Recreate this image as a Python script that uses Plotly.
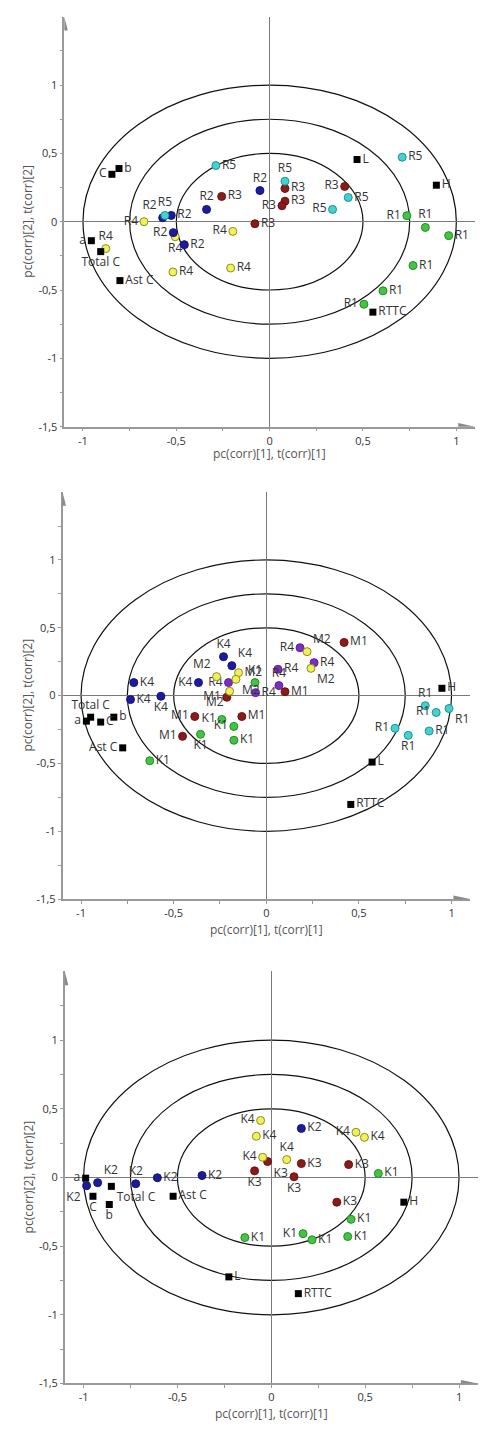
import plotly.graph_objects as go

# ---------------- panel 1 ----------------
p1_sq_names = ["b", "C", "L", "H", "a", "Total C", "Ast C", "RTTC"]
p1_sq_x = [-0.807, -0.845, 0.468, 0.893, -0.955, -0.905, -0.802, 0.553]
p1_sq_y = [0.389, 0.347, 0.455, 0.267, -0.139, -0.219, -0.431, -0.662]
p1_sq_pos = ["r", "l", "r", "r", "l", "b", "r", "r"]

p1_r5_x = [-0.288, 0.710, 0.082, 0.421, 0.337, -0.561]
p1_r5_y = [0.411, 0.472, 0.296, 0.177, 0.090, 0.046]
p1_r5_pos = ["r", "r", "t", "r", "l", "t"]

p1_r3_x = [-0.257, 0.082, 0.402, 0.082, 0.066, -0.079]
p1_r3_y = [0.185, 0.243, 0.258, 0.150, 0.117, -0.015]
p1_r3_pos = ["r", "r", "l", "r", "l", "r"]

p1_r2_x = [-0.052, -0.338, -0.573, -0.527, -0.516, -0.457]
p1_r2_y = [0.228, 0.090, 0.029, 0.046, -0.080, -0.168]
p1_r2_pos = ["t", "t", "tl", "r", "l", "r"]

p1_r4_x = [-0.673, -0.197, -0.506, -0.878, -0.518, -0.209]
p1_r4_y = [0.0, -0.071, -0.110, -0.197, -0.368, -0.339]
p1_r4_pos = ["l", "l", "b", "t", "r", "r"]

p1_r1_x = [0.735, 0.834, 0.959, 0.768, 0.607, 0.505]
p1_r1_y = [0.044, -0.042, -0.102, -0.321, -0.506, -0.604]
p1_r1_pos = ["l", "t", "r", "r", "r", "l"]

# ---------------- panel 2 ----------------
p2_sq_names = ["H", "a", "Total C", "C", "b", "Ast C", "L", "RTTC"]
p2_sq_x = [0.948, -0.971, -0.948, -0.894, -0.823, -0.775, 0.571, 0.456]
p2_sq_y = [0.054, -0.188, -0.159, -0.195, -0.159, -0.385, -0.490, -0.802]
p2_sq_pos = ["r", "l", "t", "r", "r", "l", "r", "r"]

p2_k4_x = [-0.231, -0.186, -0.715, -0.366, -0.733, -0.569]
p2_k4_y = [0.287, 0.221, 0.096, 0.096, -0.029, -0.005]
p2_k4_pos = ["t", "tr", "r", "l", "r", "b"]

p2_m2_x = [-0.268, -0.150, -0.164, -0.198, 0.220, 0.241]
p2_m2_y = [0.140, 0.169, 0.120, 0.032, 0.324, 0.201]
p2_m2_pos = ["tl", "r", "br", "bl", "tr", "br"]

p2_r4_x = [0.182, 0.258, 0.063, 0.068, -0.204, -0.058]
p2_r4_y = [0.353, 0.243, 0.194, 0.074, 0.096, 0.022]
p2_r4_pos = ["l", "r", "r", "t", "l", "r"]

p2_m1_x = [0.420, 0.101, -0.213, -0.386, -0.132, -0.452]
p2_m1_y = [0.392, 0.029, -0.012, -0.154, -0.154, -0.300]
p2_m1_pos = ["r", "r", "l", "l", "r", "l"]

p2_k1_x = [-0.061, -0.240, -0.175, -0.355, -0.175, -0.629]
p2_k1_y = [0.096, -0.176, -0.227, -0.285, -0.329, -0.480]
p2_k1_pos = ["t", "l", "l", "b", "r", "r"]

p2_r1_x = [0.858, 0.917, 0.986, 0.695, 0.766, 0.879]
p2_r1_y = [-0.074, -0.124, -0.095, -0.241, -0.293, -0.261]
p2_r1_pos = ["t", "l", "br", "l", "b", "r"]

# ---------------- panel 3 ----------------
p3_sq_names = ["a", "C", "Total C", "b", "Ast C", "H", "L", "RTTC"]
p3_sq_x = [-0.989, -0.950, -0.852, -0.863, -0.523, 0.706, -0.226, 0.144]
p3_sq_y = [-0.005, -0.137, -0.065, -0.197, -0.137, -0.180, -0.724, -0.846]
p3_sq_pos = ["l", "b", "br", "b", "r", "r", "r", "r"]

p3_k4_x = [-0.057, -0.080, -0.046, 0.082, 0.451, 0.496]
p3_k4_y = [0.415, 0.300, 0.147, 0.130, 0.329, 0.292]
p3_k4_pos = ["l", "r", "l", "t", "l", "r"]

p3_k3_x = [-0.089, -0.020, 0.121, 0.160, 0.412, 0.349]
p3_k3_y = [0.048, 0.116, 0.005, 0.101, 0.094, -0.180]
p3_k3_pos = ["b", "br", "b", "r", "r", "r"]

p3_k2_x = [0.160, -0.369, -0.607, -0.722, -0.925, -0.984]
p3_k2_y = [0.357, 0.014, -0.002, -0.046, -0.038, -0.060]
p3_k2_pos = ["r", "r", "r", "t", "tr", "bl"]

p3_k1_x = [0.570, 0.425, 0.407, 0.169, 0.217, -0.141]
p3_k1_y = [0.029, -0.305, -0.430, -0.409, -0.454, -0.438]
p3_k1_pos = ["r", "r", "r", "l", "r", "r"]

tick_x = [-1, -0.75, -0.5, -0.25, 0, 0.25, 0.5, 0.75, 1]
tick_x_text = ["-1", "", "-0,5", "", "0", "", "0,5", "", "1"]
tick_y = [-1.5, -1.25, -1, -0.75, -0.5, -0.25, 0, 0.25, 0.5, 0.75, 1, 1.25]
tick_y_text = ["-1,5", "", "-1", "", "-0,5", "", "0", "", "0,5", "", "1", ""]
radii = [0.5, 0.75, 1]

# colours (fill, edge)
GREEN = ("#44c444", "#248a24")
BLUE = ("#1b1b9c", "#14147c")
RED = ("#8a1b1b", "#6c1212")
YELLOW = ("#f0f05a", "#8e8e1e")
CYAN = ("#42d2d2", "#1f9090")
PURPLE = ("#7b2fbd", "#5e2194")

POS = {"r": "middle right", "l": "middle left", "t": "top center",
       "b": "bottom center", "tl": "top left", "tr": "top right",
       "bl": "bottom left", "br": "bottom right"}

FONT = "Open Sans, Noto Sans, sans-serif"

# pixel domains of each panel (page is 486 x 1433)
W, H = 486, 1433
panels = [
    dict(xd=(56.3, 467.0), yd=(8.8, 420.7), title_y=448),
    dict(xd=(54.5, 462.1), yd=(486.5, 895.5), title_y=925.7),
    dict(xd=(56.8, 469.8), yd=(968.2, 1382.2), title_y=1412),
]

fig = go.Figure()


def add_points(i, x, y, labels, pos, color, square=False):
    sfx = "" if i == 0 else str(i + 1)
    if square:
        marker = dict(symbol="square", size=7, color="#000000")
    else:
        marker = dict(symbol="circle", size=8, color=color[0],
                      line=dict(color=color[1], width=1))
    if isinstance(labels, str):
        labels = [labels] * len(x)
    fig.add_trace(go.Scatter(
        x=x, y=y, mode="markers+text", text=labels,
        textposition=[POS[p] for p in pos],
        textfont=dict(family=FONT, size=12, color="#333333"),
        marker=marker, cliponaxis=False, showlegend=False,
        xaxis="x" + sfx, yaxis="y" + sfx))


# panel 1
add_points(0, p1_r1_x, p1_r1_y, "R1", p1_r1_pos, GREEN)
add_points(0, p1_r4_x, p1_r4_y, "R4", p1_r4_pos, YELLOW)
add_points(0, p1_r2_x, p1_r2_y, "R2", p1_r2_pos, BLUE)
add_points(0, p1_r3_x, p1_r3_y, "R3", p1_r3_pos, RED)
add_points(0, p1_r5_x, p1_r5_y, "R5", p1_r5_pos, CYAN)
add_points(0, p1_sq_x, p1_sq_y, p1_sq_names, p1_sq_pos, None, square=True)

# panel 2
add_points(1, p2_k1_x, p2_k1_y, "K1", p2_k1_pos, GREEN)
add_points(1, p2_m1_x, p2_m1_y, "M1", p2_m1_pos, RED)
add_points(1, p2_r4_x, p2_r4_y, "R4", p2_r4_pos, PURPLE)
add_points(1, p2_m2_x, p2_m2_y, "M2", p2_m2_pos, YELLOW)
add_points(1, p2_k4_x, p2_k4_y, "K4", p2_k4_pos, BLUE)
add_points(1, p2_r1_x, p2_r1_y, "R1", p2_r1_pos, CYAN)
add_points(1, p2_sq_x, p2_sq_y, p2_sq_names, p2_sq_pos, None, square=True)

# panel 3
add_points(2, p3_k1_x, p3_k1_y, "K1", p3_k1_pos, GREEN)
add_points(2, p3_k2_x, p3_k2_y, "K2", p3_k2_pos, BLUE)
add_points(2, p3_k3_x, p3_k3_y, "K3", p3_k3_pos, RED)
add_points(2, p3_k4_x, p3_k4_y, "K4", p3_k4_pos, YELLOW)
add_points(2, p3_sq_x, p3_sq_y, p3_sq_names, p3_sq_pos, None, square=True)

layout = dict(
    width=W, height=H, margin=dict(l=0, r=0, t=0, b=0),
    paper_bgcolor="white", plot_bgcolor="white", showlegend=False,
)
shapes = []
annotations = []
for i, p in enumerate(panels):
    sfx = "" if i == 0 else str(i + 1)
    ax = dict(
        domain=[p["xd"][0] / W, p["xd"][1] / W], range=[-1.1, 1.1],
        anchor="y" + sfx, showgrid=False, zeroline=True,
        zerolinecolor="#7a7a7a", zerolinewidth=1,
        showline=True, linecolor="#9a9a9a", linewidth=1.5,
        ticks="outside", ticklen=3, tickcolor="#9a9a9a",
        tickvals=tick_x, ticktext=tick_x_text,
        tickfont=dict(family=FONT, size=11, color="#333333"),
        fixedrange=True,
    )
    ay = dict(
        domain=[1 - p["yd"][1] / H, 1 - p["yd"][0] / H], range=[-1.5, 1.5],
        anchor="x" + sfx, showgrid=False, zeroline=True,
        zerolinecolor="#7a7a7a", zerolinewidth=1,
        showline=True, linecolor="#9a9a9a", linewidth=1.5,
        ticks="outside", ticklen=3, tickcolor="#9a9a9a",
        tickvals=tick_y, ticktext=tick_y_text,
        tickfont=dict(family=FONT, size=11, color="#333333"),
        fixedrange=True,
    )
    layout["xaxis" + sfx] = ax
    layout["yaxis" + sfx] = ay
    xr, yr = "x" + sfx, "y" + sfx
    for r in radii:
        shapes.append(dict(type="circle", xref=xr, yref=yr,
                           x0=-r, x1=r, y0=-r, y1=r, layer="below",
                           line=dict(color="#111111", width=1.2)))
    # arrow heads at the ends of the axes
    shapes.append(dict(type="path", xref=xr, yref=yr, layer="above",
                       path="M -1.119,1.40 L -1.081,1.40 L -1.1,1.5 Z",
                       fillcolor="#8a8a8a", line=dict(width=0)))
    shapes.append(dict(type="path", xref=xr, yref=yr, layer="above",
                       path="M 1.01,-1.474 L 1.01,-1.526 L 1.1,-1.5 Z",
                       fillcolor="#8a8a8a", line=dict(width=0)))
    annotations.append(dict(
        text="pc(corr)[1], t(corr)[1]", xref="paper", yref="paper",
        x=(p["xd"][0] + p["xd"][1]) / 2 / W, y=1 - p["title_y"] / H,
        xanchor="center", yanchor="middle", showarrow=False,
        font=dict(family=FONT, size=12, color="#555555")))
    annotations.append(dict(
        text="pc(corr)[2], t(corr)[2]", xref="paper", yref="paper",
        x=20 / W, y=1 - (p["yd"][0] + p["yd"][1]) / 2 / H, textangle=-90,
        xanchor="center", yanchor="middle", showarrow=False,
        font=dict(family=FONT, size=12, color="#555555")))

layout["shapes"] = shapes
layout["annotations"] = annotations
fig.update_layout(**layout)

fig.write_html("out.html")
